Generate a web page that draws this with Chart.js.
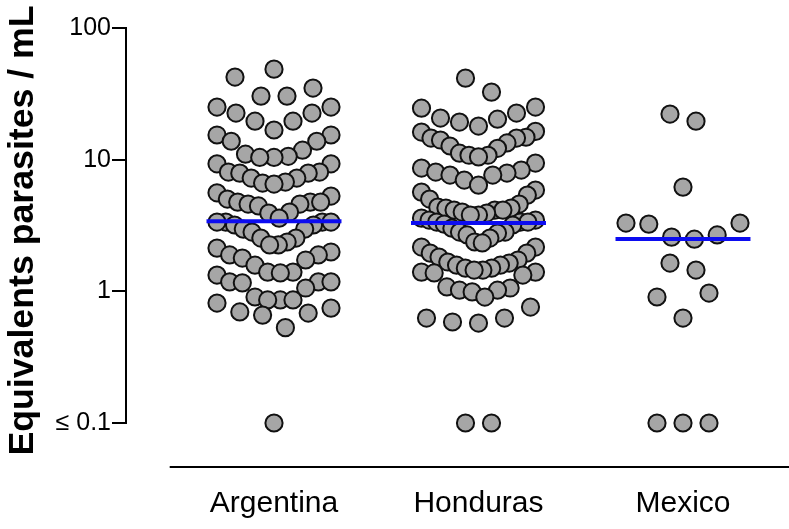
<!DOCTYPE html>
<html><head><meta charset="utf-8">
<script src="https://cdn.jsdelivr.net/npm/chart.js@4/dist/chart.umd.min.js"></script>
<style>html,body{margin:0;padding:0;background:#fff}</style>
</head><body>
<canvas id="c" width="789" height="529"></canvas>
<script>
const categories = ['Argentina', 'Honduras', 'Mexico'];

const argentina = [
  48.7, 42.4, 35.0, 30.4, 30.4, 25.1, 25.1, 22.6, 22.6, 19.6, 19.6, 16.8,
  15.4, 15.4, 13.8, 13.8, 11.8, 11.0, 10.6, 10.4, 10.4,
  9.3, 9.3, 8.05, 8.05, 7.9, 7.9, 7.25, 7.25, 6.76, 6.64, 6.53,
  5.6, 5.29, 5.02, 4.76, 4.76, 4.76, 4.60, 4.60, 4.45, 4.00, 3.93, 3.60,
  3.36, 3.36, 3.36, 3.36, 3.19, 3.19, 2.97, 2.97, 2.82, 2.54, 2.54, 2.37, 2.25, 2.25,
  2.13, 1.99, 1.89, 1.89, 1.79, 1.73, 1.58, 1.40, 1.40, 1.38,
  1.33, 1.18, 1.18, 1.18, 1.16, 1.06, 0.906, 0.86, 0.86, 0.86,
  0.815, 0.746, 0.697, 0.684, 0.66, 0.53, 0.1
];

const honduras = [
  41.6, 32.6,
  25.1, 24.6, 22.6, 20.7, 20.3, 19.3, 18.0,
  16.4, 16.2, 14.8, 14.6, 14.6, 14.1, 13.4, 12.7, 12.2, 11.2, 10.8, 10.8, 10.5,
  9.42, 8.64, 8.34, 8.05, 7.91, 7.64, 7.64, 7.00, 6.4,
  5.88, 5.67, 5.38, 5.02, 4.60, 4.37, 4.29, 4.29, 4.14, 4.14, 4.14, 4.00, 3.93, 3.80, 3.80,
  3.60, 3.48, 3.48, 3.36, 3.36, 3.36, 3.24, 3.19, 3.02, 2.82, 2.82, 2.77, 2.68, 2.54, 2.37, 2.33,
  2.17, 2.17, 1.95, 1.95, 1.82, 1.73, 1.67, 1.64, 1.58, 1.58, 1.50, 1.50, 1.45, 1.45,
  1.40, 1.40, 1.38, 1.33, 1.08, 1.06, 1.02, 1.02, 0.99, 0.905,
  0.76, 0.627, 0.627, 0.585, 0.574,
  0.1, 0.1
];

const mexico = [
  22.2, 19.6, 6.19, 3.30, 3.30, 3.24, 2.68, 2.58, 2.49, 1.64, 1.45,
  0.97, 0.906, 0.627, 0.1, 0.1, 0.1
];

const means = [3.4, 3.3, 2.5];
const yTicks = [0.1, 1, 10, 100];
const yTickLabels = ['≤ 0.1', '1', '10', '100'];
const yTitle = 'Equivalents parasites / mL ';

const groups = [argentina, honduras, mexico];
const FONT = "'Liberation Sans', Arial, Helvetica, sans-serif";
const MEAN_HALF = 0.33;
const BIN_PX = 25.7, GAP_PX = 26, MAX_PX = 114;

// Prism-like column scatter layout computed from the values through the y scale
function swarmOffsets(values, yScale) {
  const items = values.map((v, i) => ({ i, v, py: yScale.getPixelForValue(v) }));
  items.sort((a, b) => a.v - b.v);
  const out = new Array(values.length).fill(0);
  let k = 0;
  while (k < items.length) {
    const start = items[k].py;
    const bin = [];
    while (k < items.length && start - items[k].py < BIN_PX) { bin.push(items[k]); k++; }
    const n = bin.length;
    const s = n > 1 ? Math.min(GAP_PX, MAX_PX / (n - 1)) : 0;
    bin.forEach((it, j) => {
      let off;
      if (n % 2 === 1) {
        const m = Math.ceil(j / 2);
        off = j === 0 ? 0 : (j % 2 === 1 ? -m * s : m * s);
      } else {
        const m = Math.floor(j / 2);
        off = (j % 2 === 0 ? 1 : -1) * (m + 0.5) * s;
      }
      out[it.i] = off;
    });
  }
  return out;
}

const meanSets = means.map((m, c) => ({
  data: [{ x: c + 1 - MEAN_HALF, y: m }, { x: c + 1 + MEAN_HALF, y: m }],
  showLine: true, borderColor: 'rgb(12,12,240)', borderWidth: 4,
  pointRadius: 0, clip: false
}));
const pointSets = groups.map((vals, c) => ({
  data: vals.map(v => ({ x: c + 1, y: v })),
  pointRadius: 8.6, pointBorderWidth: 2,
  pointBackgroundColor: '#a6a6a6', pointBorderColor: '#111',
  pointHoverRadius: 8.6, clip: false
}));

const xAxisLine = {
  id: 'xAxisLine',
  afterDraw(chart) {
    const { ctx, chartArea, scales } = chart;
    ctx.save();
    ctx.strokeStyle = '#000';
    ctx.lineWidth = 2;
    ctx.beginPath();
    const y = chartArea.bottom + 44;
    ctx.moveTo(scales.x.getPixelForValue(0.49), y);
    ctx.lineTo(chart.width, y);
    ctx.stroke();
    ctx.restore();
  }
};

const chart = new Chart(document.getElementById('c'), {
  type: 'scatter',
  data: { datasets: [...meanSets, ...pointSets] },
  plugins: [xAxisLine],
  options: {
    responsive: false, animation: false,
    layout: { autoPadding: false, padding: { top: 28, right: 0, bottom: 0, left: 0 } },
    plugins: { legend: { display: false }, tooltip: { enabled: false } },
    scales: {
      x: {
        type: 'linear', min: 0.2763, max: 3.5184,
        afterBuildTicks: s => { s.ticks = categories.map((_, i) => ({ value: i + 1 })); },
        afterFit: s => { s.height = 106; },
        grid: { display: false }, border: { display: false },
        ticks: {
          callback: v => categories[Math.round(v) - 1] || '',
          font: { family: FONT, size: 30 }, color: '#000',
          padding: 55, maxRotation: 0, autoSkip: false
        }
      },
      y: {
        type: 'logarithmic', min: 0.1, max: 100,
        afterBuildTicks: s => { s.ticks = yTicks.map(v => ({ value: v })); },
        afterFit: s => { s.width = 126; },
        grid: { drawOnChartArea: false, drawTicks: true, tickLength: 14, color: '#000', lineWidth: 2 },
        border: { display: true, color: '#000', width: 2 },
        ticks: {
          callback: (v, i) => yTickLabels[i],
          font: { family: FONT, size: 25 }, color: '#000', padding: 1, autoSkip: false
        },
        title: {
          display: true, text: yTitle, color: '#000',
          font: { family: FONT, size: 35.7, weight: 'bold' },
          padding: { top: 2, bottom: 0 }
        }
      }
    }
  }
});

const xs = chart.scales.x, ys = chart.scales.y;
const pxPerUnit = xs.getPixelForValue(2) - xs.getPixelForValue(1);
groups.forEach((vals, c) => {
  const off = swarmOffsets(vals, ys);
  chart.data.datasets[means.length + c].data = vals.map((v, i) => ({ x: c + 1 + off[i] / pxPerUnit, y: v }));
});
chart.update('none');
</script>
</body></html>
